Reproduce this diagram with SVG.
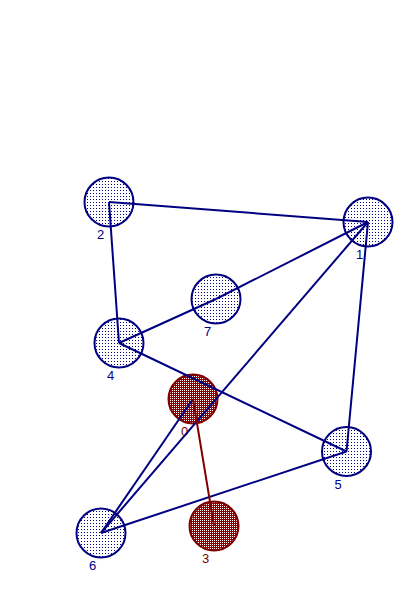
<svg xmlns="http://www.w3.org/2000/svg" width="400" height="600" viewBox="0 0 400 600">
<defs>
<pattern id="dots" x="0" y="0" width="3" height="3" patternUnits="userSpaceOnUse">
<rect width="3" height="3" fill="#ffffff" shape-rendering="crispEdges"/>
<rect x="0" y="1" width="1" height="1" fill="#000080" shape-rendering="crispEdges"/>
</pattern>
<pattern id="check" x="0" y="0" width="2" height="2" patternUnits="userSpaceOnUse">
<rect width="2" height="2" fill="#8b0000" shape-rendering="crispEdges"/>
<rect x="0" y="0" width="1" height="1" fill="#ffffff" shape-rendering="crispEdges"/>
</pattern>
</defs>
<style>
.n circle{fill:url(#dots);stroke:#000080;stroke-width:2}
.n text{fill:#000080}
.r circle{fill:url(#check);stroke:#800000;stroke-width:2}
.r text{fill:#800000}
text{font-family:"Liberation Sans",Arial,sans-serif;font-size:13px;text-anchor:middle}
.e line{stroke:#000080;stroke-width:2}
.e line.red{stroke:#800000}
</style>
<rect width="400" height="600" fill="#ffffff"/>
<g id="node2" class="n"><circle cx="109" cy="202" r="24.5"/><text x="100.5" y="239">2</text></g>
<g id="node1" class="n"><circle cx="368" cy="222" r="24.5"/><text x="359.5" y="259">1</text></g>
<g id="node7" class="n"><circle cx="216" cy="299" r="24.5"/><text x="207.5" y="336">7</text></g>
<g id="node4" class="n"><circle cx="119" cy="343" r="24.5"/><text x="110.5" y="380">4</text></g>
<g id="node0" class="r"><circle cx="193" cy="399" r="24.5"/><text x="184.5" y="436">0</text></g>
<g id="node5" class="n"><circle cx="346.5" cy="451.5" r="24.5"/><text x="338" y="488.5">5</text></g>
<g id="node3" class="r"><circle cx="214" cy="526" r="24.5"/><text x="205.5" y="563">3</text></g>
<g id="node6" class="n"><circle cx="101" cy="533" r="24.5"/><text x="92.5" y="570">6</text></g>
<g id="edges" class="e">
<line x1="109" y1="202" x2="368" y2="222"/>
<line x1="109" y1="202" x2="119" y2="343"/>
<line x1="119" y1="343" x2="216" y2="299"/>
<line x1="216" y1="299" x2="368" y2="222"/>
<line x1="119" y1="343" x2="346.5" y2="451.5"/>
<line x1="368" y1="222" x2="101" y2="533"/>
<line x1="368" y1="222" x2="346.5" y2="451.5"/>
<line x1="193" y1="399" x2="101" y2="533"/>
<line x1="346.5" y1="451.5" x2="101" y2="533"/>
<line class="red" x1="193" y1="399" x2="214" y2="526"/>
</g>
</svg>
